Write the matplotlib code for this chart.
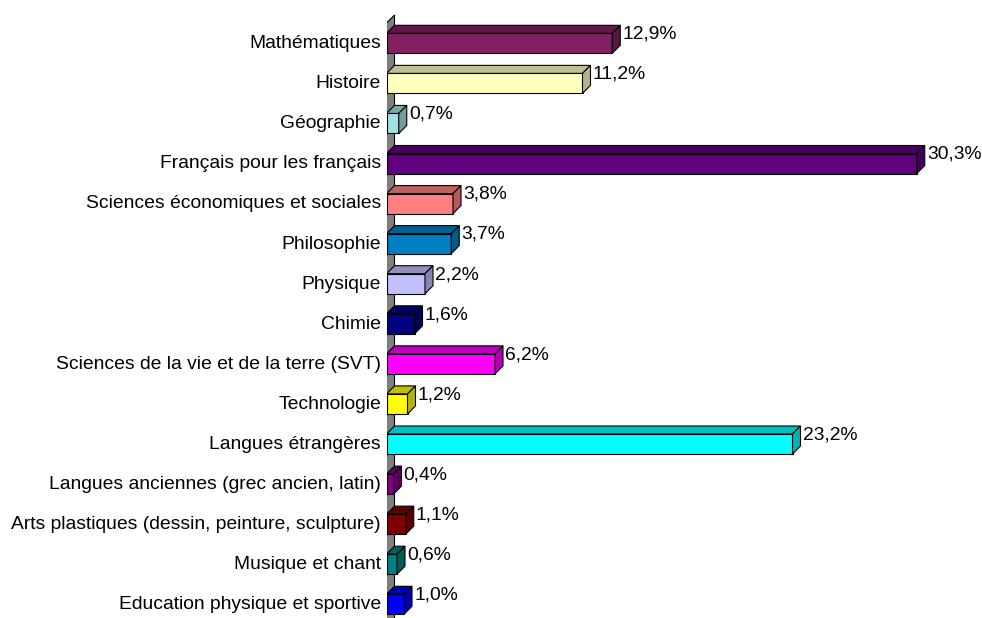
import matplotlib
matplotlib.use("Agg")
import matplotlib.pyplot as plt
import matplotlib.colors as mcolors
import numpy as np

categories = [
    "Mathématiques", "Histoire", "Géographie", "Français pour les français",
    "Sciences économiques et sociales", "Philosophie", "Physique", "Chimie",
    "Sciences de la vie et de la terre (SVT)", "Technologie", "Langues étrangères",
    "Langues anciennes (grec ancien, latin)", "Arts plastiques (dessin, peinture, sculpture)",
    "Musique et chant", "Education physique et sportive",
]
values = [12.9, 11.2, 0.7, 30.3, 3.8, 3.7, 2.2, 1.6, 6.2, 1.2, 23.2, 0.4, 1.1, 0.6, 1.0]
value_labels = ["12,9%", "11,2%", "0,7%", "30,3%", "3,8%", "3,7%", "2,2%", "1,6%",
                "6,2%", "1,2%", "23,2%", "0,4%", "1,1%", "0,6%", "1,0%"]
colors = ["#802060", "#FFFFC0", "#A0E0E0", "#600080", "#FF8080", "#0080C0", "#C0C0FF",
          "#000080", "#FF00FF", "#FFFF00", "#00FFFF", "#800080", "#800000", "#008080", "#0000FF"]

plt.rcParams['font.family'] = ['Liberation Sans', 'DejaVu Sans']

W, H = 982, 618
fig = plt.figure(figsize=(W / 100, H / 100), dpi=100)
x0 = 386.5
pxper = 17.5
spacing = 40.07
c0 = 43.3
ax = fig.add_axes([x0 / W, 0, (W - x0) / W, 1])
ax.set_xlim(0, (W - x0) / pxper)
ax.set_ylim((H - c0) / spacing, (0 - c0) / spacing)

dx = 8 / pxper
dy = 8 / spacing
bh = 20 / spacing
fs = 13.9

def shade(c, f):
    r, g, b = mcolors.to_rgb(c)
    return (r * f, g * f, b * f)

# wall
wall_top = (23 - c0) / spacing
ybot = (H + 10 - c0) / spacing
ax.fill([0, 0, dx, dx], [ybot, wall_top, wall_top - dy, ybot],
        facecolor="#808080", edgecolor="black", linewidth=0.8, zorder=1)

y = np.arange(len(categories))
ax.barh(y, values, height=bh, left=0, color=colors, edgecolor="black",
        linewidth=0.8, zorder=3)
for i, (v, c) in enumerate(zip(values, colors)):
    top = i - bh / 2
    bot = i + bh / 2
    # top face
    ax.fill([0, v, v + dx, dx], [top, top, top - dy, top - dy],
            facecolor=shade(c, 0.75), edgecolor="black", linewidth=0.8, zorder=3)
    # side face
    ax.fill([v, v + dx, v + dx, v], [top, top - dy, bot - dy, bot],
            facecolor=shade(c, 0.7), edgecolor="black", linewidth=0.8, zorder=3)
    ax.text(v + dx + 2 / pxper, i - 0.23, value_labels[i], fontsize=fs,
            va="center", ha="left", zorder=4)

ax.set_yticks(y - 0.04)
ax.set_yticklabels(categories, fontsize=fs)
ax.tick_params(axis="y", length=0, pad=4)
ax.set_xticks([])
for s in ax.spines.values():
    s.set_visible(False)
ax.patch.set_alpha(0)

fig.savefig("out.png", dpi=100)
